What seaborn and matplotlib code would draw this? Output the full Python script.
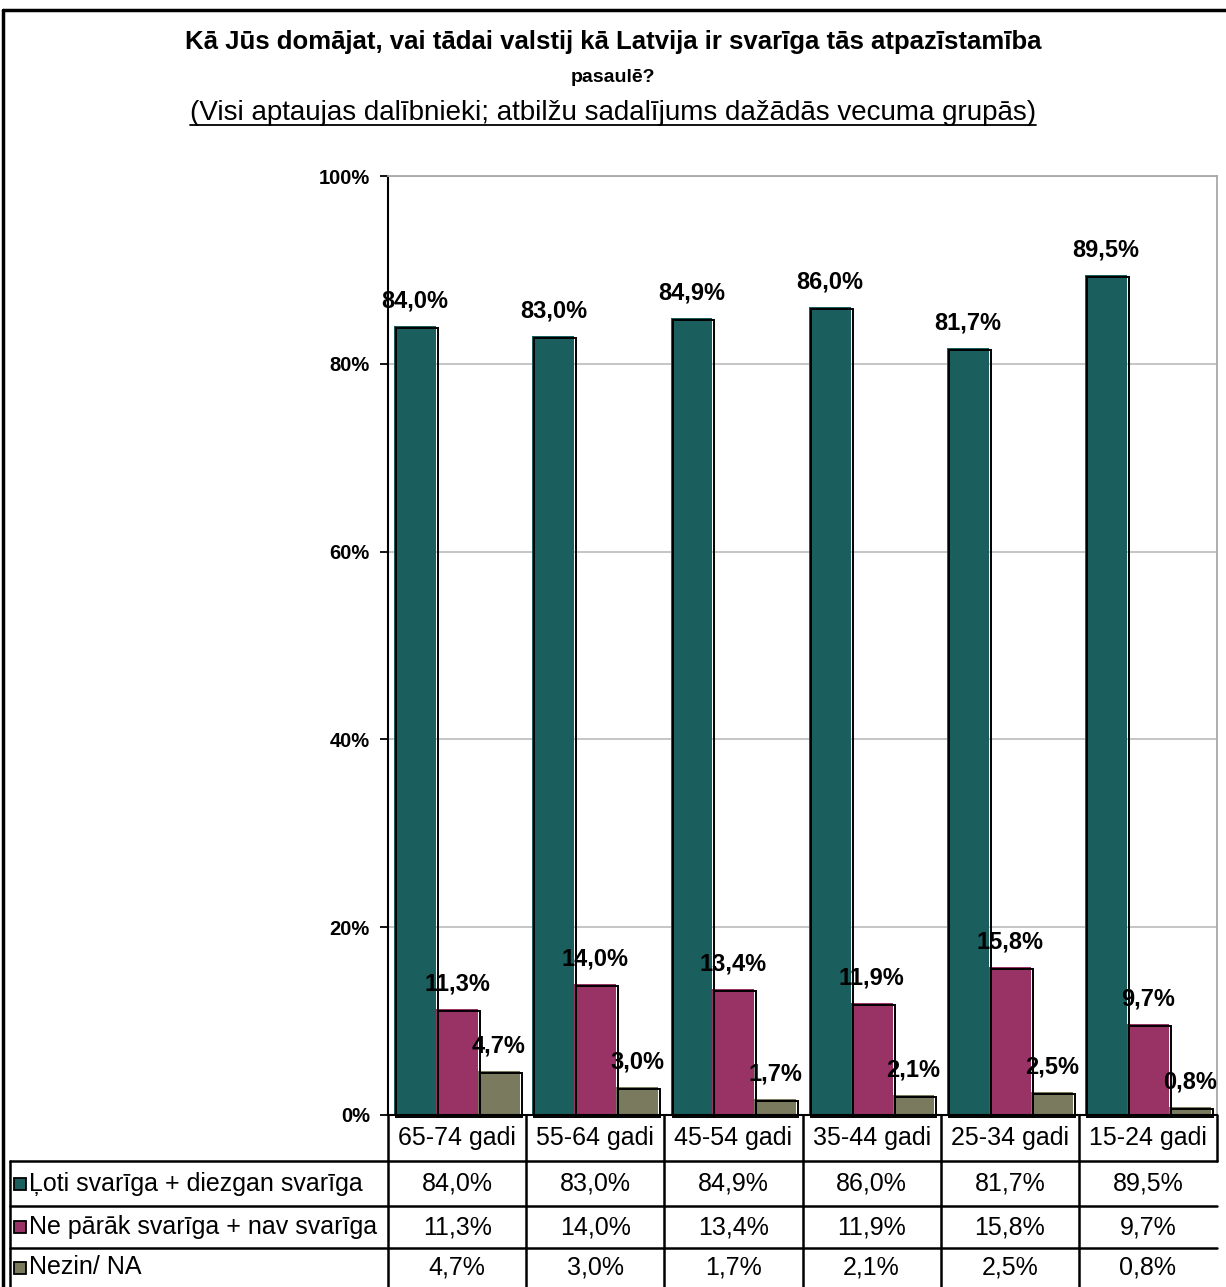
import numpy as np
import pandas as pd
import matplotlib
matplotlib.use("Agg")
import matplotlib.pyplot as plt
import matplotlib.transforms as mtransforms
from matplotlib.patches import Rectangle
from matplotlib.lines import Line2D
import seaborn as sns

# data
age_groups = ["65-74 gadi", "55-64 gadi", "45-54 gadi", "35-44 gadi", "25-34 gadi", "15-24 gadi"]
answers = ["Ļoti svarīga + diezgan svarīga", "Ne pārāk svarīga + nav svarīga", "Nezin/ NA"]
important = [84.0, 83.0, 84.9, 86.0, 81.7, 89.5]
not_important = [11.3, 14.0, 13.4, 11.9, 15.8, 9.7]
dont_know = [4.7, 3.0, 1.7, 2.1, 2.5, 0.8]
colors = ["#1A5E5E", "#993366", "#7A7A5F"]

series = [important, not_important, dont_know]
df = pd.DataFrame({
    "Vecums": age_groups * 3,
    "Atbilde": [a for a in answers for _ in age_groups],
    "Vērtība": important + not_important + dont_know,
})

sns.set_style("white")
plt.rcParams["font.family"] = ["Liberation Sans", "DejaVu Sans"]
plt.rcParams["text.color"] = "black"
plt.rcParams["ytick.color"] = "black"
plt.rcParams["xtick.color"] = "black"

W, H = 1226, 1287
fig = plt.figure(figsize=(W / 100, H / 100), dpi=100)


def fx(x):
    return x / W


def fy(y):
    return 1 - y / H


# plot area in pixel coords
L, R, T, B = 388, 1217, 176, 1115
ax = fig.add_axes([fx(L), fy(B), fx(R - L), (B - T) / H])

sns.barplot(data=df, x="Vecums", y="Vērtība", hue="Atbilde", palette=colors,
            width=0.91, saturation=1, legend=False, ax=ax, linewidth=0, edgecolor="none")

# black outline slightly offset (Excel style shadow)
shift = mtransforms.offset_copy(ax.transData, fig=fig, x=2, y=-2, units="dots")
for p in list(ax.patches):
    if p.get_height() <= 0:
        continue
    ax.add_patch(Rectangle((p.get_x(), 0), p.get_width(), p.get_height(),
                           facecolor="none", edgecolor="black", linewidth=1.4,
                           transform=shift, clip_on=False, zorder=3))

# value labels
for cont in ax.containers:
    labels = [f"{v:.1f}".replace(".", ",") + "%" for v in cont.datavalues]
    for bar, lab in zip(cont, labels):
        ax.annotate(lab, (bar.get_x() + bar.get_width() / 2, bar.get_height()),
                    xytext=(0, 18), textcoords="offset points", ha="center", va="center",
                    fontsize=17, fontweight="bold", color="black", zorder=5)

ax.set_ylim(0, 100)
ax.set_yticks([0, 20, 40, 60, 80, 100])
ax.set_yticklabels([f"{t}%" for t in range(0, 101, 20)], fontsize=14.5, fontweight="bold")
ax.set_xlabel("")
ax.set_ylabel("")
ax.set_xticks([])
ax.yaxis.grid(True, color="#C0C0C0", linewidth=1.3)
ax.set_axisbelow(True)
ax.tick_params(axis="y", direction="out", length=6, width=1.3, color="black", pad=7, left=True)
for side in ["top", "right"]:
    ax.spines[side].set_color("#A8A8A8")
    ax.spines[side].set_linewidth(1.3)
for side in ["left", "bottom"]:
    ax.spines[side].set_color("black")
    ax.spines[side].set_linewidth(1.5)

# titles
cx_title = 0.5 * (183 + 1043) / W
fig.text(cx_title, fy(42), "Kā Jūs domājat, vai tādai valstij kā Latvija ir svarīga tās atpazīstamība",
         ha="center", va="center", fontsize=18.5, fontweight="bold")
fig.text(cx_title, fy(77), "pasaulē?", ha="center", va="center",
         fontsize=14, fontweight="bold")
sub = fig.text(cx_title, fy(113),
               "(Visi aptaujas dalībnieki; atbilžu sadalījums dažādās vecuma grupās)",
               ha="center", va="center", fontsize=20)

# underline the subtitle
fig.canvas.draw()
bb = sub.get_window_extent(renderer=fig.canvas.get_renderer())
fig.add_artist(Line2D([bb.x0 / W, bb.x1 / W], [(bb.y0 + 1) / H, (bb.y0 + 1) / H],
                      color="black", linewidth=1.3, transform=fig.transFigure))

# outer frame
lw = 2.5
fig.add_artist(Line2D([fx(3), fx(W)], [fy(10), fy(10)], color="black", linewidth=lw))
fig.add_artist(Line2D([fx(3), fx(3)], [fy(10), fy(H)], color="black", linewidth=lw))

# data table
rows_y = [1161, 1206, 1248, H]
col_w = (R - L) / len(age_groups)
tl = 1.8
for y in rows_y[:-1]:
    fig.add_artist(Line2D([fx(10), fx(R)], [fy(y), fy(y)], color="black", linewidth=tl))
fig.add_artist(Line2D([fx(10), fx(10)], [fy(1161), fy(H)], color="black", linewidth=tl))
for k in range(len(age_groups) + 1):
    x = L + k * col_w
    bottom = H if k < len(age_groups) else 1161
    fig.add_artist(Line2D([fx(x), fx(x)], [fy(B), fy(bottom)], color="black", linewidth=tl))

for k, g in enumerate(age_groups):
    cx = L + (k + 0.5) * col_w
    fig.text(fx(cx), fy((B + 1161) / 2), g, ha="center", va="center", fontsize=18)

for r, (name, vals, col) in enumerate(zip(answers, series, colors)):
    cy = (rows_y[r] + rows_y[r + 1]) / 2
    fig.add_artist(Rectangle((fx(14), fy(cy + 6)), 12 / W, 12 / H, facecolor=col,
                             edgecolor="black", linewidth=1.3, transform=fig.transFigure))
    fig.text(fx(29), fy(cy), name, ha="left", va="center", fontsize=18)
    for k, v in enumerate(vals):
        cx = L + (k + 0.5) * col_w
        fig.text(fx(cx), fy(cy), f"{v:.1f}".replace(".", ",") + "%", ha="center", va="center", fontsize=18)

fig.savefig("out.png", dpi=100, facecolor="white")
